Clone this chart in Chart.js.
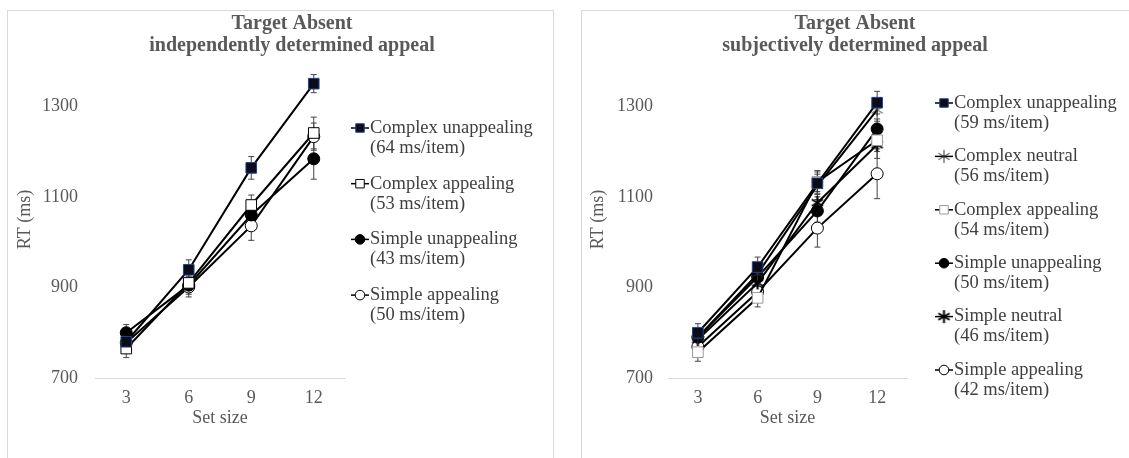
<!DOCTYPE html>
<html>
<head>
<meta charset="utf-8">
<script src="https://cdn.jsdelivr.net/npm/chart.js@4.4.1/dist/chart.umd.min.js"></script>
<style>
  body { margin: 0; background: #fff; width: 1129px; height: 458px; overflow: hidden; position: relative; }
  .panel { position: absolute; top: 10px; height: 470px; border: 1px solid #d9d9d9; box-sizing: border-box; }
  #p1 { left: 7px; width: 547px; }
  #p2 { left: 581px; width: 560px; }
  canvas { position: absolute; top: 10px; }
  #c1 { left: 7px; }
  #c2 { left: 581px; }
</style>
</head>
<body>
<div class="panel" id="p1"></div>
<div class="panel" id="p2"></div>
<canvas id="c1" width="546" height="448"></canvas>
<canvas id="c2" width="548" height="448"></canvas>
<script>
const setSizes = ['3', '6', '9', '12'];
const yTicks = [700, 900, 1100, 1300];

// left panel: independently determined appeal
const leftTitle = ['Target Absent', 'independently determined appeal'];
const leftNames = ['Complex unappealing', 'Complex appealing', 'Simple unappealing', 'Simple appealing'];
const leftSlopes = ['(64 ms/item)', '(53 ms/item)', '(43 ms/item)', '(50 ms/item)'];
const leftComplexUnappealing = [780, 939, 1164, 1350];
const leftComplexAppealing = [765, 910, 1082, 1241];
const leftSimpleUnappealing = [800, 905, 1060, 1184];
const leftSimpleAppealing = [778, 901, 1036, 1233];
const leftErrCU = [20, 22, 25, 20];
const leftErrCA = [20, 20, 22, 35];
const leftErrSU = [18, 20, 25, 45];
const leftErrSA = [18, 22, 32, 30];

// right panel: subjectively determined appeal
const rightTitle = ['Target Absent', 'subjectively determined appeal'];
const rightNames = ['Complex unappealing', 'Complex neutral', 'Complex appealing', 'Simple unappealing', 'Simple neutral', 'Simple appealing'];
const rightSlopes = ['(59 ms/item)', '(56 ms/item)', '(54 ms/item)', '(50 ms/item)', '(46 ms/item)', '(42 ms/item)'];
const rightComplexUnappealing = [800, 945, 1130, 1308];
const rightComplexNeutral = [790, 930, 1125, 1292];
const rightComplexAppealing = [757, 877, 1133, 1225];
const rightSimpleUnappealing = [790, 923, 1069, 1250];
const rightSimpleNeutral = [785, 910, 1087, 1215];
const rightSimpleAppealing = [769, 890, 1031, 1151];
const rightErrCU = [20, 22, 25, 25];
const rightErrCN = [18, 20, 25, 25];
const rightErrCA = [20, 20, 25, 25];
const rightErrSU = [18, 20, 25, 22];
const rightErrSN = [18, 20, 25, 30];
const rightErrSA = [20, 22, 42, 55];

const textGray = '#595959';
const serif = '"Liberation Serif", "Times New Roman", serif';

function asterisk(size, lw, color) {
  const c = document.createElement('canvas');
  c.width = size;
  c.height = size;
  const g = c.getContext('2d');
  g.strokeStyle = color;
  g.lineWidth = lw;
  const m = size / 2, r = size / 2 - 1;
  g.beginPath();
  for (let k = 0; k < 3; k++) {
    const a = Math.PI / 2 + k * Math.PI / 3;
    g.moveTo(m + r * Math.cos(a), m + r * Math.sin(a));
    g.lineTo(m - r * Math.cos(a), m - r * Math.sin(a));
  }
  g.stroke();
  return c;
}

const marks = {
  cu: { pointStyle: 'rect', pointRadius: 7.5, pointBackgroundColor: '#0b0b1a', pointBorderColor: '#24438a', pointBorderWidth: 1 },
  ca: { pointStyle: 'rect', pointRadius: 7.5, pointBackgroundColor: '#ffffff', pointBorderColor: '#000000', pointBorderWidth: 1 },
  caLight: { pointStyle: 'rect', pointRadius: 7.5, pointBackgroundColor: '#ffffff', pointBorderColor: '#9a9a9a', pointBorderWidth: 1 },
  su: { pointStyle: 'circle', pointRadius: 6, pointBackgroundColor: '#000000', pointBorderColor: '#000000', pointBorderWidth: 1 },
  sa: { pointStyle: 'circle', pointRadius: 6, pointBackgroundColor: '#ffffff', pointBorderColor: '#000000', pointBorderWidth: 1 },
  cn: { pointStyle: asterisk(15, 1, '#333333'), pointRadius: 7, pointBackgroundColor: '#333', pointBorderColor: '#333', pointBorderWidth: 1 },
  sn: { pointStyle: asterisk(15, 2, '#000000'), pointRadius: 7, pointBackgroundColor: '#000', pointBorderColor: '#000', pointBorderWidth: 1 },
};

function series(label, data, err, mark) {
  return Object.assign({
    label: label,
    data: data,
    err: err,
    borderColor: '#000000',
    borderWidth: 2,
    fill: false,
    tension: 0,
  }, mark);
}

// error bars, titles and two-line legend drawn on the chart canvas
const panelDecor = {
  id: 'panelDecor',
  beforeDatasetsDraw(chart) {
    const ctx = chart.ctx;
    const y = chart.scales.y;
    ctx.save();
    ctx.strokeStyle = '#444444';
    ctx.lineWidth = 1;
    chart.data.datasets.forEach((ds, i) => {
      const meta = chart.getDatasetMeta(i);
      meta.data.forEach((pt, j) => {
        const top = y.getPixelForValue(ds.data[j] + ds.err[j]);
        const bot = y.getPixelForValue(ds.data[j] - ds.err[j]);
        ctx.beginPath();
        ctx.moveTo(pt.x, top); ctx.lineTo(pt.x, bot);
        ctx.moveTo(pt.x - 3, top); ctx.lineTo(pt.x + 3, top);
        ctx.moveTo(pt.x - 3, bot); ctx.lineTo(pt.x + 3, bot);
        ctx.stroke();
      });
    });
    ctx.restore();
  },
  afterDraw(chart, args, opts) {
    const ctx = chart.ctx;
    ctx.save();
    ctx.fillStyle = textGray;
    ctx.font = 'bold 20px ' + serif;
    ctx.textAlign = 'center';
    ctx.textBaseline = 'middle';
    opts.title.forEach((t, k) => ctx.fillText(t, opts.titleX, opts.titleY + k * 22));

    chart.data.datasets.forEach((ds, i) => {
      const ly = opts.legendY + i * opts.legendStep;
      const mx = opts.legendX;
      ctx.strokeStyle = '#000';
      ctx.lineWidth = 1.5;
      ctx.beginPath();
      ctx.moveTo(mx - 9, ly); ctx.lineTo(mx + 9, ly);
      ctx.stroke();
      ctx.fillStyle = ds.pointBackgroundColor;
      ctx.strokeStyle = ds.pointBorderColor;
      ctx.lineWidth = ds.pointBorderWidth;
      Chart.helpers.drawPoint(ctx, {
        pointStyle: ds.pointStyle,
        radius: ds.pointRadius * 0.8,
        borderWidth: ds.pointBorderWidth,
        rotation: 0,
      }, mx, ly);
      ctx.fillStyle = '#404040';
      ctx.font = '18.5px ' + serif;
      ctx.textAlign = 'left';
      ctx.textBaseline = 'middle';
      ctx.fillText(ds.label, mx + 10, ly);
      ctx.fillText(opts.slopes[i], mx + 10, ly + 20);
    });
    ctx.restore();
  },
};

function makeChart(id, datasets, cfg) {
  const ctx = document.getElementById(id).getContext('2d');
  return new Chart(ctx, {
    type: 'line',
    data: { labels: setSizes, datasets: datasets },
    plugins: [panelDecor],
    options: {
      responsive: false,
      animation: false,
      layout: { padding: { top: 51, right: cfg.padRight, left: 0, bottom: 0 } },
      plugins: {
        legend: { display: false },
        tooltip: { enabled: false },
        panelDecor: cfg.decor,
      },
      scales: {
        x: {
          type: 'category',
          offset: true,
          grid: { display: false, drawTicks: false },
          border: { display: true, color: '#d9d9d9', width: 1 },
          ticks: { color: textGray, font: { family: serif, size: 18 }, padding: 9 },
          title: { display: true, text: 'Set size', color: textGray, font: { family: serif, size: 18 }, padding: { top: 0, bottom: 29 } },
          afterFit: (s) => { s.height = 80; },
        },
        y: {
          min: 700,
          max: 1400,
          grid: { display: false, drawTicks: false },
          border: { display: false },
          ticks: { color: textGray, font: { family: serif, size: 18 }, padding: cfg.tickPad, callback: (v) => String(v) },
          afterBuildTicks: (s) => { s.ticks = yTicks.map((v) => ({ value: v })); },
          title: { display: true, text: 'RT (ms)', color: textGray, font: { family: serif, size: 18 }, padding: { top: cfg.titlePad, bottom: 0 } },
          afterFit: (s) => { s.width = cfg.axisWidth; },
        },
      },
    },
  });
}

makeChart('c1', [
  series(leftNames[0], leftComplexUnappealing, leftErrCU, marks.cu),
  series(leftNames[1], leftComplexAppealing, leftErrCA, marks.ca),
  series(leftNames[2], leftSimpleUnappealing, leftErrSU, marks.su),
  series(leftNames[3], leftSimpleAppealing, leftErrSA, marks.sa),
], {
  padRight: 208, axisWidth: 88, tickPad: 17, titlePad: 7,
  decor: { title: leftTitle, titleX: 285, titleY: 14, slopes: leftSlopes, legendX: 353, legendY: 118, legendStep: 55.7 },
});

makeChart('c2', [
  series(rightNames[0], rightComplexUnappealing, rightErrCU, marks.cu),
  series(rightNames[1], rightComplexNeutral, rightErrCN, marks.cn),
  series(rightNames[2], rightComplexAppealing, rightErrCA, marks.caLight),
  series(rightNames[3], rightSimpleUnappealing, rightErrSU, marks.su),
  series(rightNames[4], rightSimpleNeutral, rightErrSN, marks.sn),
  series(rightNames[5], rightSimpleAppealing, rightErrSA, marks.sa),
], {
  padRight: 222, axisWidth: 87, tickPad: 15, titlePad: 6,
  decor: { title: rightTitle, titleX: 274, titleY: 14, slopes: rightSlopes, legendX: 363, legendY: 93, legendStep: 53.4 },
});
</script>
</body>
</html>
